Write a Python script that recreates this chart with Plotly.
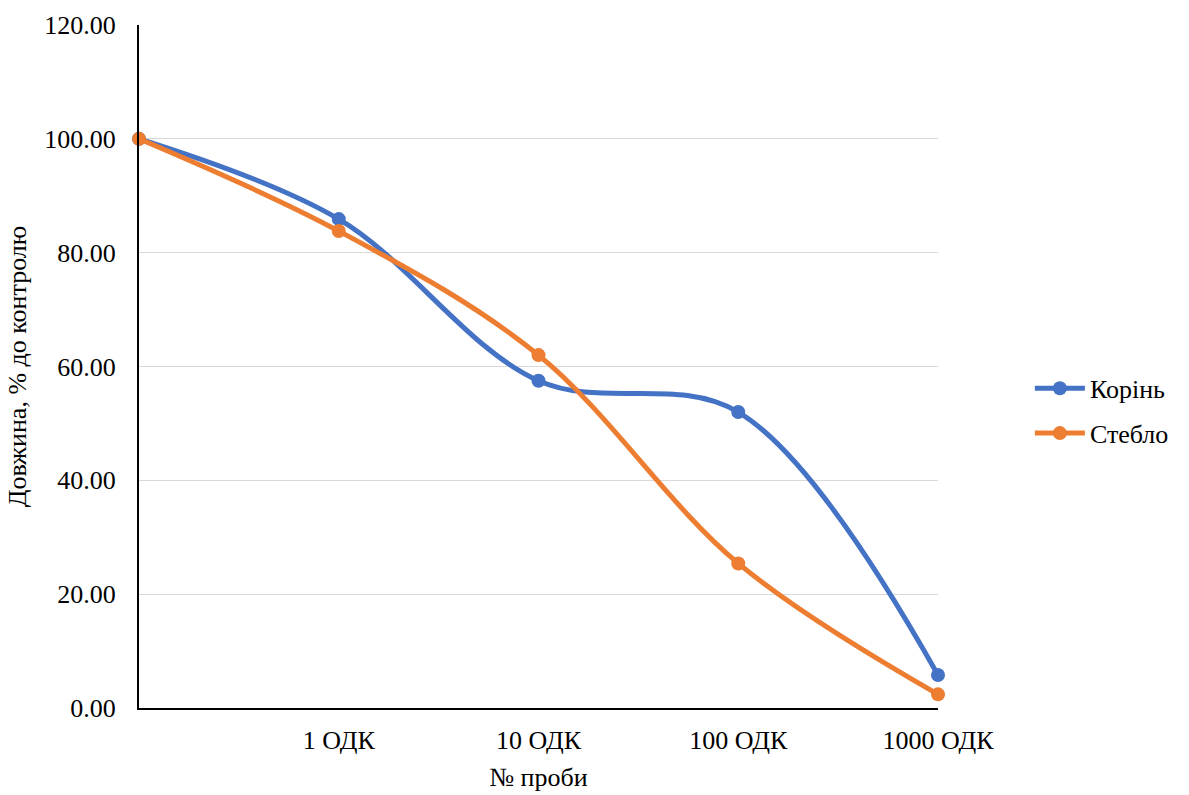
import plotly.graph_objects as go

categories = ["", "1 ОДК", "10 ОДК", "100 ОДК", "1000 ОДК"]
root = [100.0, 85.9, 57.5, 52.0, 5.8]
stem = [100.0, 83.8, 62.0, 25.4, 2.4]
series_names = ["Корінь", "Стебло"]
colors = ["#4472C4", "#ED7D31"]

xs = list(range(len(categories)))
FONT = "Liberation Serif, Times New Roman, serif"
FS = 26

fig = go.Figure()
for name, vals, c in zip(series_names, [root, stem], colors):
    fig.add_trace(go.Scatter(
        x=xs, y=vals, name=name, mode="lines+markers", legendgroup=name,
        line=dict(color=c, width=5, shape="spline", smoothing=1.0),
        marker=dict(color=c, size=14),
        cliponaxis=False,
    ))

fig.update_layout(
    width=1189, height=795,
    margin=dict(l=139, r=251, t=25, b=87),
    plot_bgcolor="white", paper_bgcolor="white",
    font=dict(family=FONT, size=FS, color="black"),
    showlegend=True,
    legend=dict(x=1.115, y=0.435, xanchor="left", yanchor="middle",
                font=dict(family=FONT, size=FS, color="black"),
                tracegroupgap=8, itemwidth=50),
    xaxis=dict(
        range=[0, 4], tickmode="array", tickvals=xs, ticktext=categories,
        showgrid=False, showline=True, linecolor="black", linewidth=2,
        ticks="", zeroline=False, ticklabelstandoff=8, automargin=False,
        tickfont=dict(family=FONT, size=FS, color="black"),
        title=dict(text="№ проби", font=dict(family=FONT, size=FS, color="black"), standoff=14),
    ),
    yaxis=dict(
        range=[0, 120], tickvals=[0, 20, 40, 60, 80, 100, 120],
        tickformat=".2f", showgrid=True, gridcolor="#D9D9D9", gridwidth=1.3,
        showline=True, linecolor="black", linewidth=2, ticks="",
        zeroline=False, ticklabelstandoff=16, automargin=False,
        tickfont=dict(family=FONT, size=FS, color="black"),
        title=dict(text="Довжина, % до контролю", font=dict(family=FONT, size=FS, color="black"), standoff=10),
    ),
)

fig.write_html("out.html")
